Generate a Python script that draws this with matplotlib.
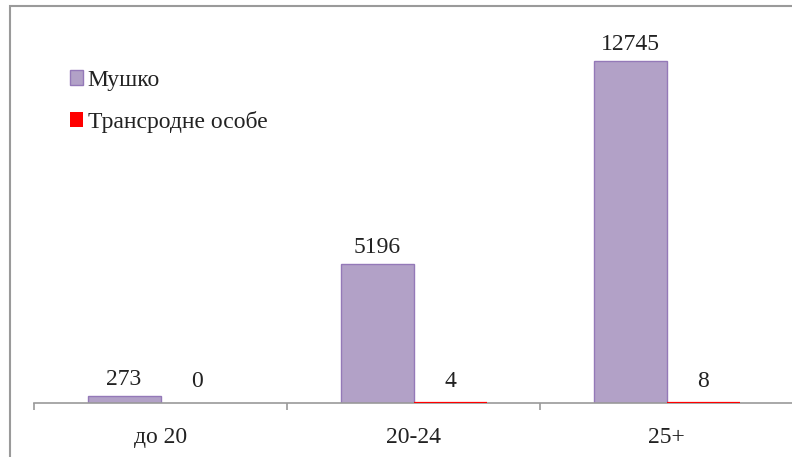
import matplotlib
matplotlib.use("Agg")
import matplotlib.pyplot as plt
from matplotlib.patches import Rectangle
import numpy as np

categories = ["до 20", "20-24", "25+"]
male = [273, 5196, 12745]
trans = [0, 4, 8]
series_names = ["Мушко", "Трансродне особе"]

plt.rcParams["font.family"] = ["Liberation Serif", "DejaVu Serif"]

W, H = 792, 457
FS = 17
fig = plt.figure(figsize=(W / 100, H / 100), dpi=100)

# outer chart frame (runs off the right and bottom edges)
fig.patches.append(Rectangle((10 / W, -0.1), 1.2, (H - 6) / H + 0.1,
                             transform=fig.transFigure, fill=False,
                             edgecolor="#9a9a9a", linewidth=1.5))

ax = fig.add_axes([34 / W, (H - 403) / H, 759 / W, (403 - 27.3) / H])
x = np.arange(len(categories))
bw = 73 / 253

ax.bar(x - bw / 2, male, width=bw, color="#B2A1C7", edgecolor="#9479B8",
       linewidth=1.0, label=series_names[0])
trans_edges = ["#FF0000" if v > 0 else "none" for v in trans]
ax.bar(x + bw / 2, trans, width=bw, color="#FF0000", edgecolor=trans_edges,
       linewidth=1.6, label=series_names[1], zorder=3)

for xi, v in zip(x, male):
    ax.annotate(str(v), (xi - bw / 2, v), xytext=(0, 4), textcoords="offset points",
                ha="center", va="bottom", fontsize=FS, color="#222222")
for xi, v in zip(x, trans):
    ax.annotate(str(v), (xi + bw / 2, v), xytext=(0, 8), textcoords="offset points",
                ha="center", va="bottom", fontsize=FS, color="#222222")

ax.set_xlim(-0.5, len(categories) - 0.5)
ax.set_ylim(0, 14000)
for s in ["top", "right", "left"]:
    ax.spines[s].set_visible(False)
ax.spines["bottom"].set_color("#9a9a9a")
ax.spines["bottom"].set_linewidth(1.2)
ax.set_yticks([])

ax.set_xticks(x)
ax.set_xticklabels(categories, fontsize=FS, color="#222222")
ax.tick_params(axis="x", which="major", length=0, pad=17)
ax.set_xticks(np.arange(len(categories) + 1) - 0.5, minor=True)
ax.tick_params(axis="x", which="minor", length=5, color="#9a9a9a", width=1.2)

leg = fig.legend(loc="upper left", bbox_to_anchor=(58 / W, 1 - 58 / H),
                 frameon=False, fontsize=FS, handlelength=0.55, handleheight=0.55,
                 handletextpad=0.2, labelspacing=0.85, borderpad=0)
for t in leg.get_texts():
    t.set_color("#222222")

fig.savefig("out.png", dpi=100)
